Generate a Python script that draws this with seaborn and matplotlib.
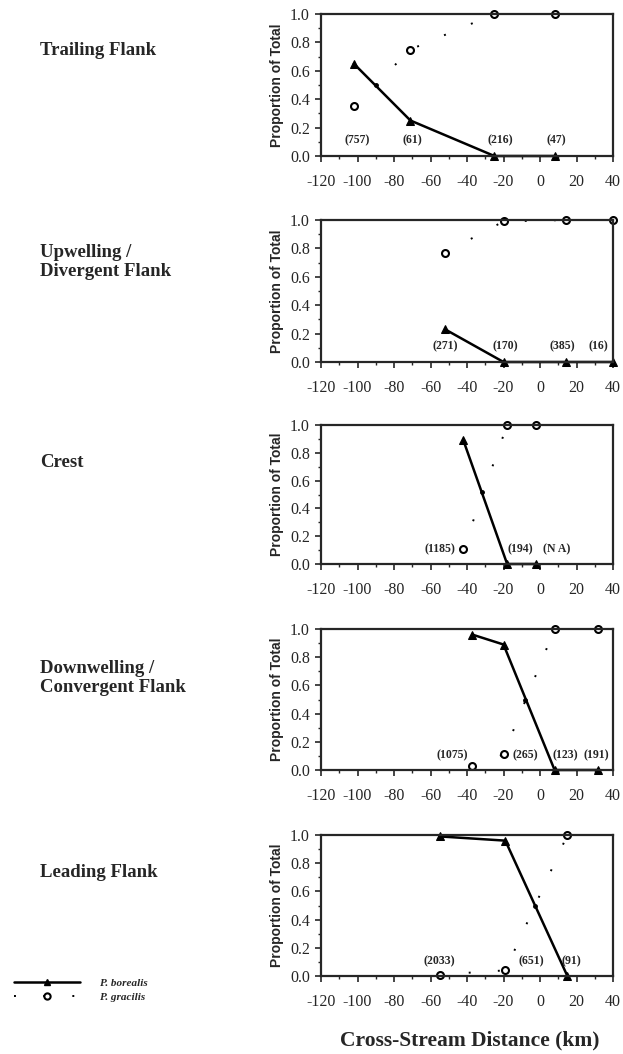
"""Cross-stream distribution of P. borealis vs P. gracilis across five frontal regions."""

import numpy as np
import pandas as pd
import matplotlib.pyplot as plt
import seaborn as sns
from matplotlib.lines import Line2D
from matplotlib.ticker import MultipleLocator

# --- data ---------------------------------------------------------------------
panel_names = ["Trailing Flank", "Upwelling /\nDivergent Flank", "Crest",
               "Downwelling /\nConvergent Flank", "Leading Flank"]

# P. borealis (solid line, triangles)
trail_bor_x = [-102, -71, -25, 8]
trail_bor_y = [0.65, 0.25, 0.0, 0.0]
upw_bor_x = [-52, -20, 14, 40]
upw_bor_y = [0.23, 0.0, 0.0, 0.0]
crest_bor_x = [-42, -18, -2]
crest_bor_y = [0.89, 0.0, 0.0]
down_bor_x = [-37, -20, 8, 32]
down_bor_y = [0.96, 0.89, 0.0, 0.0]
lead_bor_x = [-55, -19, 15]
lead_bor_y = [0.99, 0.96, 0.0]

# P. gracilis (dotted line, open circles)
trail_gra_x = [-102, -71, -25, 8]
trail_gra_y = [0.35, 0.75, 1.0, 1.0]
upw_gra_x = [-52, -20, 14, 40]
upw_gra_y = [0.77, 0.99, 1.0, 1.0]
crest_gra_x = [-42, -18, -2]
crest_gra_y = [0.11, 1.0, 1.0]
down_gra_x = [-37, -20, 8, 32]
down_gra_y = [0.03, 0.11, 1.0, 1.0]
lead_gra_x = [-55, -19, 15]
lead_gra_y = [0.01, 0.04, 1.0]

# 50 % crossing of P. borealis (small dots)
mid_x = [-90, None, -32, -8, -3]
mid_y = [0.50, None, 0.52, 0.50, 0.50]

# sample sizes
trail_n = ["(757)", "(61)", "(216)", "(47)"]
trail_n_x = [-100, -70, -22, 9]
upw_n = ["(271)", "(170)", "(385)", "(16)"]
upw_n_x = [-52, -19, 12, 32]
crest_n = ["(1185)", "(194)", "(N A)"]
crest_n_x = [-55, -11, 9]
down_n = ["(1075)", "(265)", "(123)", "(191)"]
down_n_x = [-48, -8, 14, 31]
lead_n = ["(2033)", "(651)", "(91)"]
lead_n_x = [-55, -5, 17]

bor_x = [trail_bor_x, upw_bor_x, crest_bor_x, down_bor_x, lead_bor_x]
bor_y = [trail_bor_y, upw_bor_y, crest_bor_y, down_bor_y, lead_bor_y]
gra_x = [trail_gra_x, upw_gra_x, crest_gra_x, down_gra_x, lead_gra_x]
gra_y = [trail_gra_y, upw_gra_y, crest_gra_y, down_gra_y, lead_gra_y]
n_lab = [trail_n, upw_n, crest_n, down_n, lead_n]
n_x = [trail_n_x, upw_n_x, crest_n_x, down_n_x, lead_n_x]

# --- styling ------------------------------------------------------------------
sns.set_style("ticks")
plt.rcParams["font.family"] = ["Liberation Serif", "DejaVu Serif"]
plt.rcParams["axes.linewidth"] = 1.6
plt.rcParams["axes.unicode_minus"] = False

fig = plt.figure(figsize=(6.23, 10.54), dpi=100)
W, H = 623, 1054

# axes boxes in pixels: (top, bottom), and title centre (first line) in pixels
rows = [(14, 156), (220, 362), (425, 564), (629, 770), (835, 976)]
title_y = [50, 252, 462, 668, 872]
left_px, right_px = 321, 613

for i, (top, bot) in enumerate(rows):
    ax = fig.add_axes([left_px / W, 1 - bot / H, (right_px - left_px) / W, (bot - top) / H])

    df_b = pd.DataFrame({"x": bor_x[i], "y": bor_y[i]})
    df_g = pd.DataFrame({"x": gra_x[i], "y": gra_y[i]})
    sns.lineplot(data=df_b, x="x", y="y", ax=ax, color="black", lw=1.8,
                 marker="^", markersize=6, markeredgecolor="black",
                 sort=False, clip_on=False, label="P. borealis")
    sns.lineplot(data=df_g, x="x", y="y", ax=ax, color="black", lw=1.4,
                 linestyle=(0, (1, 14)), marker="o", markersize=5,
                 markerfacecolor="white", markeredgecolor="black",
                 markeredgewidth=1.5, sort=False, clip_on=False,
                 label="P. gracilis")
    if mid_x[i] is not None:
        ax.plot(mid_x[i], mid_y[i], "o", color="black", markersize=2.5)

    for lab, lx in zip(n_lab[i], n_x[i]):
        ax.text(lx, 0.065, lab, ha="center", va="bottom", fontsize=8.5,
                fontweight="bold")

    ax.set_xlim(-120, 40)
    ax.set_ylim(0, 1.0)
    ax.set_xticks(np.arange(-120, 41, 20))
    ax.set_yticks(np.arange(0, 1.01, 0.2))
    ax.set_yticklabels([f"{v:.1f}" for v in np.arange(0, 1.01, 0.2)])
    ax.xaxis.set_minor_locator(MultipleLocator(10))
    ax.yaxis.set_minor_locator(MultipleLocator(0.1))
    ax.tick_params(axis="x", which="major", direction="out", length=4,
                   width=1.2, labelsize=11.5, pad=9)
    ax.tick_params(axis="y", which="major", direction="out", length=4,
                   width=1.2, labelsize=11.5, pad=4)
    ax.tick_params(axis="both", which="minor", direction="out", length=2.5, width=1)
    ax.set_xlabel("")
    ax.set_ylabel("Proportion of Total", fontsize=10, fontweight="bold",
                  family=["Liberation Sans", "DejaVu Sans"], labelpad=4)
    for sp in ax.spines.values():
        sp.set_visible(True)
    ax.get_legend().remove()

    fig.text(40 / W, 1 - title_y[i] / H, panel_names[i], ha="left", va="top",
             fontsize=13.5, fontweight="bold", linespacing=1.15,
             transform=fig.transFigure)

# va="top" needs the cap-top, shift by half a line
for t in fig.texts:
    x, y = t.get_position()
    t.set_position((x, y + 8 / H))

fig.text(470 / W, 1 - 1040 / H, "Cross-Stream Distance (km)", ha="center",
         va="center", fontsize=15.5, fontweight="bold")

handles = [
    Line2D([0], [0], color="black", lw=1.8, marker="^", markersize=5),
    Line2D([0], [0], color="black", lw=1.4, linestyle=(0, (1, 14)),
           marker="o", markersize=4.5, markerfacecolor="white",
           markeredgewidth=1.5),
]
fig.legend(handles, ["P. borealis", "P. gracilis"], loc="center left",
           bbox_to_anchor=(4 / W, 1 - 990 / H), frameon=False,
           handlelength=5.9, handletextpad=1.8, labelspacing=0.45,
           prop={"size": 8, "style": "italic", "weight": "bold"})

fig.savefig("out.png", dpi=100)
